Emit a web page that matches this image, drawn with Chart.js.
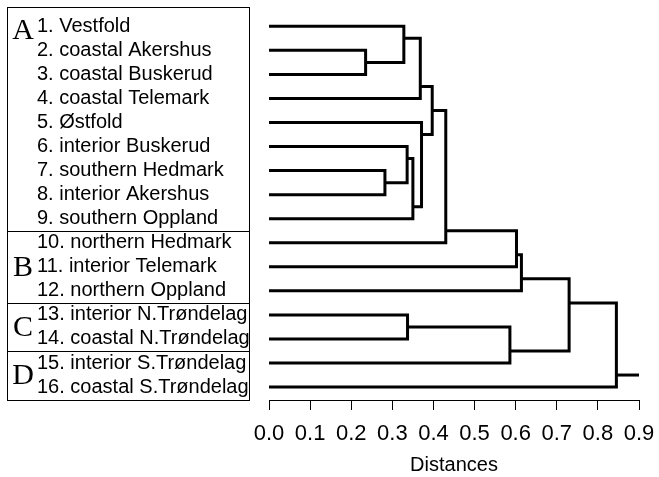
<!DOCTYPE html>
<html>
<head>
<meta charset="utf-8">
<script src="https://cdn.jsdelivr.net/npm/chart.js@4"></script>
<style>
  html, body { margin: 0; padding: 0; background: #fff; }
  canvas { display: block; }
</style>
</head>
<body>
<canvas id="dendro" width="659" height="477"></canvas>
<script>
// leaves, top to bottom
const leafLabels = [
  "1. Vestfold", "2. coastal Akershus", "3. coastal Buskerud", "4. coastal Telemark",
  "5. Østfold", "6. interior Buskerud", "7. southern Hedmark", "8. interior Akershus",
  "9. southern Oppland", "10. northern Hedmark", "11. interior Telemark", "12. northern Oppland",
  "13. interior N.Trøndelag", "14. coastal N.Trøndelag", "15. interior S.Trøndelag", "16. coastal S.Trøndelag"
];
const groupNames = ["A", "B", "C", "D"];
const groupSizes = [9, 3, 2, 2];

// merges like hclust: negative = leaf number, positive = earlier merge (1-based)
const mergeLeft   = [-2, -7, -1, -6, -13,  4,  3, -5, 7,   9,   5,  10,  12, 13,  14];
const mergeRight  = [-3, -8,  1,  2, -14, -9, -4,  6, 8, -10, -15, -11, -12, 11, -16];
const mergeHeight = [0.235, 0.282, 0.328, 0.336, 0.337, 0.350, 0.368, 0.371, 0.397, 0.430, 0.586, 0.602, 0.614, 0.730, 0.845];
// row where the merged branch leaves (in leaf rows)
const mergeRow    = [2.5, 7.5, 1.5, 6.5, 13.5, 8.5, 3.5, 5.5, 4.5, 9.5, 14.5, 10.5, 11.5, 12.5, 15.5];
const rootEnd = 0.9;
const xTicks = [0.0, 0.1, 0.2, 0.3, 0.4, 0.5, 0.6, 0.7, 0.8, 0.9];

const sans = '"Liberation Sans", Arial, sans-serif';
const serif = '"Liberation Serif", "Times New Roman", serif';

function nodeAt(k) {
  if (k < 0) return { h: 0, row: -k };
  return { h: mergeHeight[k - 1], row: mergeRow[k - 1] };
}

const segments = mergeHeight.map((h, i) => {
  const a = nodeAt(mergeLeft[i]);
  const b = nodeAt(mergeRight[i]);
  return [
    { x: a.h, y: a.row }, { x: h, y: a.row },
    { x: h, y: b.row }, { x: b.h, y: b.row }
  ];
});
const last = mergeHeight.length - 1;
segments.push([
  { x: mergeHeight[last], y: mergeRow[last] },
  { x: rootEnd, y: mergeRow[last] }
]);

// box with group letters and leaf names on the left
const labelBox = {
  id: "labelBox",
  afterDraw(chart) {
    const ctx = chart.ctx;
    const y = chart.scales.y;
    const left = 7, right = 249, top = 7, bottom = chart.chartArea.bottom;
    ctx.save();
    ctx.strokeStyle = "#000";
    ctx.lineWidth = 1;
    ctx.strokeRect(left + 0.5, top + 0.5, right - left, bottom - top);

    let first = 1;
    groupNames.forEach((g, i) => {
      const size = groupSizes[i];
      const lastRow = first + size - 1;
      if (i < groupNames.length - 1) {
        const sy = Math.round(y.getPixelForValue(lastRow + 0.5)) + 0.5;
        ctx.beginPath();
        ctx.moveTo(left, sy);
        ctx.lineTo(right, sy);
        ctx.stroke();
      }
      // big group sits at its top, small ones centred
      const row = size > 3 ? first + 0.15 : first + (size - 1) / 2;
      ctx.fillStyle = "#000";
      ctx.font = "30px " + serif;
      ctx.textAlign = "center";
      ctx.textBaseline = "middle";
      ctx.fillText(g, 23, y.getPixelForValue(row) + 1);
      first = lastRow + 1;
    });

    ctx.font = "20px " + sans;
    ctx.textAlign = "left";
    ctx.textBaseline = "middle";
    leafLabels.forEach((t, i) => {
      ctx.fillText(t, 37, y.getPixelForValue(i + 1));
    });
    ctx.restore();
  }
};

new Chart(document.getElementById("dendro"), {
  type: "scatter",
  data: {
    datasets: segments.map(d => ({
      data: d,
      showLine: true,
      borderColor: "#000",
      borderWidth: 3,
      borderJoinStyle: "miter",
      pointRadius: 0,
      pointHoverRadius: 0,
      tension: 0,
      fill: false,
      clip: false
    }))
  },
  options: {
    responsive: false,
    animation: false,
    devicePixelRatio: 1,
    layout: { padding: { top: 10, left: 269, right: 20, bottom: 0 } },
    plugins: {
      legend: { display: false },
      tooltip: { enabled: false }
    },
    scales: {
      x: {
        type: "linear",
        position: "bottom",
        min: 0,
        max: 0.9,
        afterBuildTicks: s => { s.ticks = xTicks.map(v => ({ value: v })); },
        afterFit: s => { s.height = 77; s.paddingLeft = 0; s.paddingRight = 0; },
        ticks: {
          color: "#000",
          font: { size: 22, family: sans },
          padding: 11,
          autoSkip: false,
          maxRotation: 0,
          callback: v => Number(v).toFixed(1)
        },
        grid: { drawOnChartArea: false, drawTicks: true, tickLength: 10, color: "#000", lineWidth: 1 },
        border: { display: true, color: "#000", width: 1 },
        title: {
          display: true,
          text: "Distances",
          color: "#000",
          font: { size: 20, family: sans },
          padding: { top: 0, bottom: 0 }
        }
      },
      y: {
        display: false,
        reverse: true,
        min: 0.322,
        max: 16.538
      }
    }
  },
  plugins: [labelBox]
});
</script>
</body>
</html>
